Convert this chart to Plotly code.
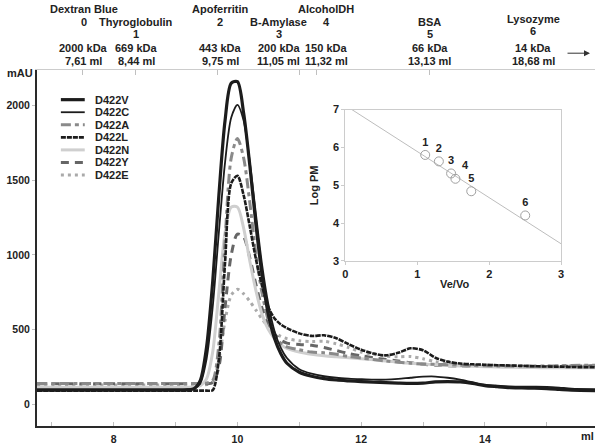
import plotly.graph_objects as go

# ---------------- data ----------------
elution_ml = [6.76, 9.0, 9.2, 9.3, 9.4, 9.5, 9.6, 9.7, 9.8, 9.9, 10.0, 10.1, 10.2, 10.3, 10.4,
              10.5, 10.6, 10.7, 10.8, 11.0, 11.2, 11.4, 11.6, 11.8, 12.0, 12.2, 12.4, 12.6,
              12.8, 13.0, 13.2, 13.4, 13.6, 13.8, 14.0, 14.2, 14.4, 14.6, 14.8, 15.0, 15.2,
              15.4, 15.78]

d422v = [95, 95, 97, 105, 160, 380, 820, 1400, 1900, 2150, 2160, 1950, 1600, 1200, 860, 600,
         440, 340, 275, 215, 188, 172, 163, 157, 152, 148, 145, 142, 140, 142, 150, 152, 150,
         140, 125, 118, 112, 110, 108, 105, 100, 95, 92]
d422c = [100, 100, 101, 106, 140, 300, 650, 1150, 1620, 1920, 2005, 1900, 1620, 1270, 930, 670,
         490, 380, 310, 235, 205, 188, 178, 172, 168, 165, 165, 170, 178, 185, 186, 178, 165,
         148, 132, 125, 120, 118, 118, 117, 112, 105, 102]
d422a = [140, 140, 140, 140, 140, 142, 160, 400, 1100, 1650, 1780, 1650, 1350, 1000, 740, 560,
         460, 410, 385, 365, 350, 345, 335, 320, 310, 300, 290, 282, 275, 270, 268, 265, 262,
         260, 258, 257, 256, 255, 255, 256, 258, 260, 262]
d422l = [92, 92, 92, 92, 92, 92, 95, 300, 950, 1480, 1530, 1400, 1190, 970, 790, 650, 575, 535,
         510, 475, 458, 462, 442, 402, 366, 340, 328, 345, 375, 362, 312, 286, 273, 268, 265,
         262, 260, 258, 255, 253, 252, 250, 248]
d422n = [115, 115, 115, 117, 125, 170, 350, 750, 1150, 1320, 1320, 1180, 960, 760, 600, 500,
         440, 400, 375, 350, 335, 325, 318, 312, 305, 298, 290, 282, 275, 270, 265, 260, 257,
         255, 252, 250, 248, 247, 246, 245, 245, 245, 245]
d422y = [138, 138, 138, 138, 138, 138, 145, 250, 650, 1000, 1140, 1120, 980, 800, 640, 530,
         470, 430, 410, 400, 395, 380, 360, 340, 325, 312, 300, 290, 278, 268, 262, 258, 256,
         255, 254, 253, 253, 252, 252, 252, 253, 255, 258]
d422e = [130, 130, 130, 130, 130, 132, 150, 300, 560, 730, 770, 740, 690, 630, 570, 520, 480,
         455, 440, 425, 420, 422, 405, 380, 350, 335, 322, 318, 320, 305, 285, 272, 268, 265,
         262, 260, 258, 257, 256, 256, 256, 256, 256]

series_names = ["D422V", "D422C", "D422A", "D422L", "D422N", "D422Y", "D422E"]
series_values = [d422v, d422c, d422a, d422l, d422n, d422y, d422e]

# calibration standards
std_names = ["Dextran Blue", "Thyroglobulin", "Apoferritin", "B-Amylase", "AlcoholDH", "BSA", "Lysozyme"]
std_index = [0, 1, 2, 3, 4, 5, 6]
std_kda = [2000, 669, 443, 200, 150, 66, 14]
std_ml = [7.61, 8.44, 9.75, 11.05, 11.32, 13.13, 18.68]

# inset calibration curve
cal_ve_vo = [1.11, 1.30, 1.47, 1.53, 1.75, 2.50]
cal_log_pm = [5.80, 5.63, 5.31, 5.17, 4.84, 4.20]
cal_labels = ["1", "2", "3", "4", "5", "6"]
fit_x = [0.09, 3.0]
fit_y = [7.0, 3.45]

main_yticks = [0, 500, 1000, 1500, 2000]
main_xticks = [8, 10, 12, 14]

# ---------------- styles / layout ----------------
W, H = 600, 447
ML, MR, MT, MB = 37, 2, 70, 17
PW, PH = W - ML - MR, H - MT - MB

def px(xp):
    return (xp - ML) / PW

def py(yp):
    return (H - MB - yp) / PH

FONT = "Liberation Sans, Arial, Helvetica, sans-serif"
TXT = "#222222"

styles = {
    "D422V": dict(color="#1c1c1c", width=3.2, dash="solid"),
    "D422C": dict(color="#1c1c1c", width=1.8, dash="solid"),
    "D422A": dict(color="#8a8a8a", width=3, dash="10px,4px,4px,4px"),
    "D422L": dict(color="#1c1c1c", width=2.6, dash="5px,1px"),
    "D422N": dict(color="#cfcfcf", width=3, dash="solid"),
    "D422Y": dict(color="#666666", width=3, dash="8px,6px"),
    "D422E": dict(color="#aaaaaa", width=3, dash="3px,4px"),
}
draw_order = ["D422E", "D422Y", "D422N", "D422A", "D422L", "D422C", "D422V"]

fig = go.Figure()

for name in draw_order:
    vals = series_values[series_names.index(name)]
    fig.add_trace(go.Scatter(x=elution_ml, y=vals, mode="lines", name=name,
                             line=dict(shape="spline", smoothing=0.8, **styles[name]),
                             showlegend=False, hoverinfo="skip", xaxis="x", yaxis="y"))

# invisible trace to activate top axis
fig.add_trace(go.Scatter(x=[std_ml[0]], y=[0], mode="markers", marker=dict(opacity=0),
                         showlegend=False, hoverinfo="skip", xaxis="x3", yaxis="y"))

# inset
fig.add_trace(go.Scatter(x=fit_x, y=fit_y, mode="lines", line=dict(color="#bdbdbd", width=1),
                         showlegend=False, hoverinfo="skip", xaxis="x2", yaxis="y2"))
fig.add_trace(go.Scatter(x=cal_ve_vo, y=cal_log_pm, mode="markers+text", text=cal_labels,
                         textposition=["top center", "top center", "top center", "top right",
                                       "top center", "top center"],
                         textfont=dict(family=FONT, size=11, color=TXT, weight="bold"),
                         marker=dict(symbol="circle-open", size=9, color="#a0a0a0",
                                     line=dict(width=1)),
                         showlegend=False, hoverinfo="skip", xaxis="x2", yaxis="y2"))

tickfont = dict(family=FONT, size=10.5, color=TXT, weight="bold")

fig.update_layout(
    width=W, height=H, autosize=False,
    margin=dict(l=ML, r=MR, t=MT, b=MB, pad=0),
    paper_bgcolor="white", plot_bgcolor="white",
    showlegend=False,
    xaxis=dict(domain=[0, 1], range=[6.76, 15.78], tickvals=main_xticks, ticks="",
               showline=True, linecolor="#2a2a2a", linewidth=1.5, showgrid=False,
               zeroline=False, tickfont=tickfont, ticklabelstandoff=3,
               minor=dict(dtick=1, ticks="inside", ticklen=4, tickcolor="#c0c0c0", showgrid=False)),
    yaxis=dict(domain=[0, 1], range=[-145, 2238], tickvals=main_yticks, ticks="outside",
               ticklen=3, tickcolor="#c0c0c0", showline=True, linecolor="#2a2a2a",
               linewidth=2, showgrid=False, zeroline=False, tickfont=tickfont),
    xaxis3=dict(overlaying="x", side="top", range=[6.88, 15.76], tickvals=std_ml[:6],
                ticks="inside", ticklen=5, tickcolor="#c0c0c0", showticklabels=False,
                showline=True, linecolor="#cccccc", linewidth=1, showgrid=False,
                zeroline=False, anchor="y"),
    xaxis2=dict(domain=[px(347), px(564)], anchor="y2", range=[0, 3], tickvals=[0, 1, 2, 3],
                ticks="outside", ticklen=3, tickcolor="#cccccc", showline=True, mirror=True,
                linecolor="#cccccc", linewidth=1, showgrid=False, zeroline=False,
                tickfont=dict(family=FONT, size=11, color=TXT, weight="bold")),
    yaxis2=dict(domain=[py(263), py(110)], anchor="x2", range=[3, 7], tickvals=[3, 4, 5, 6, 7],
                ticks="outside", ticklen=3, tickcolor="#cccccc", showline=True, mirror=True,
                linecolor="#cccccc", linewidth=1, showgrid=False, zeroline=False,
                tickfont=dict(family=FONT, size=11, color=TXT, weight="bold")),
)

ann = []
def text(xp, yp, s, size=11, xanchor="center", angle=0):
    ann.append(dict(x=px(xp), y=py(yp), xref="paper", yref="paper", text=s, showarrow=False,
                    xanchor=xanchor, yanchor="middle", textangle=angle,
                    font=dict(family=FONT, size=size, color=TXT, weight="bold")))

# header labels of the standards
label_x = [84, 137, 221, 280, 328, 432, 536]
name_y = [8, 21, 8, 21, 8, 21, 18]
for i in range(len(std_names)):
    text(label_x[i], name_y[i], std_names[i])
    text(label_x[i], name_y[i] + 13, str(std_index[i]))
    text(label_x[i], 48, f"{std_kda[i]} kDa")
    text(label_x[i], 61, f"{std_ml[i]:.2f}".replace(".", ",") + " ml")

# arrow toward off-scale standard
ann.append(dict(x=px(593), y=py(53), xref="paper", yref="paper", ax=-24, ay=0,
                showarrow=True, arrowhead=2, arrowsize=1.2, arrowwidth=1, arrowcolor="#333",
                text=""))

text(20, 73, "mAU", size=11)
text(590, 440, "ml", size=11)
text(315, 187, "Log PM", size=11, angle=-90)
text(457, 286, "Ve/Vo", size=11)

# manual compact legend
shapes = []
for i, name in enumerate(series_names):
    yp = 100 + 12.7 * i
    st = styles[name]
    shapes.append(dict(type="line", xref="paper", yref="paper", x0=px(61), x1=px(85),
                       y0=py(yp), y1=py(yp),
                       line=dict(color=st["color"], width=st["width"], dash=st["dash"])))
    text(93, yp, name, size=11, xanchor="left")

fig.update_layout(annotations=ann, shapes=shapes)

fig.write_html("out.html", config={"displayModeBar": False},
               post_script="document.body.style.margin='0';document.body.style.overflow='hidden';")
